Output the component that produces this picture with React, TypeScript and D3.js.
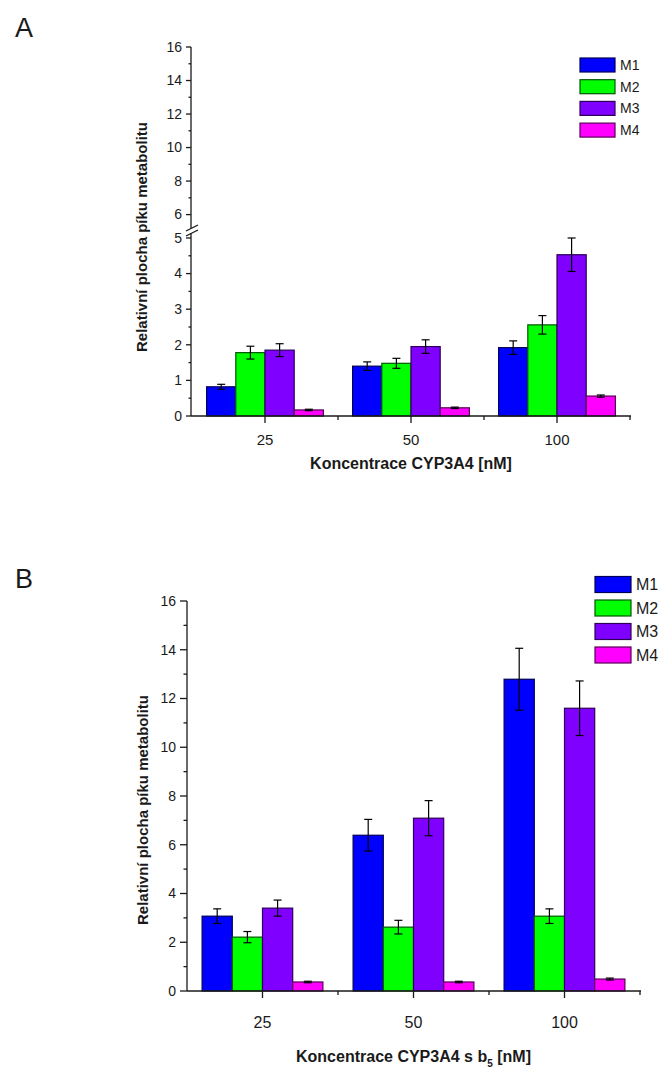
import React from "react";
import * as d3 from "d3";

// concentrations [nM]
const categories = ["25", "50", "100"];
const seriesNames = ["M1", "M2", "M3", "M4"];
const seriesColors = ["#0000FF", "#00FF00", "#8000FF", "#FF00FF"];

// panel A: CYP3A4 alone (rows = M1..M4, cols = 25/50/100)
const valuesA = [
  [0.82, 1.4, 1.92],
  [1.78, 1.48, 2.56],
  [1.85, 1.95, 4.53],
  [0.17, 0.23, 0.56],
];
const errorsA = [
  [0.07, 0.12, 0.19],
  [0.18, 0.14, 0.26],
  [0.18, 0.19, 0.47],
  [0.02, 0.02, 0.03],
];

// panel B: CYP3A4 with cytochrome b5
const valuesB = [
  [3.07, 6.39, 12.79],
  [2.21, 2.62, 3.07],
  [3.4, 7.09, 11.6],
  [0.37, 0.37, 0.49],
];
const errorsB = [
  [0.3, 0.65, 1.27],
  [0.23, 0.28, 0.3],
  [0.33, 0.72, 1.12],
  [0.03, 0.03, 0.04],
];

// tick labels
const ticksALower = [0, 1, 2, 3, 4, 5];
const ticksAUpper = [6, 8, 10, 12, 14, 16];
const ticksB = [0, 2, 4, 6, 8, 10, 12, 14, 16];

const yTitle = "Relativní plocha píku metabolitu";
const FONT = "Arial, 'Liberation Sans', Helvetica, sans-serif";
const INK = "#1a1a1a";

interface Segment {
  scale: d3.ScaleLinear<number, number>;
  major: number[];
  minor: number[];
}

interface PanelProps {
  label: string;
  labelY: number;
  values: number[][];
  errors: number[][];
  xRange: [number, number];
  segments: Segment[];
  axisX: number;
  majorLen: number;
  tickFontY: number;
  tickFontX: number;
  xLabelY: number;
  titleY: number;
  yTitleX: number;
  yTitleY: number;
  title: React.ReactNode;
  legend: { x: number; y: number; w: number; h: number; step: number; font: number };
  breakAt?: [number, number];
}

const Panel = (p: PanelProps) => {
  const y0 = p.segments[0].scale(0);
  const yOf = (v: number) => {
    for (const s of p.segments) {
      const d = s.scale.domain();
      if (v >= d[0] && v <= d[1]) return s.scale(v);
    }
    return p.segments[p.segments.length - 1].scale(v);
  };

  const x0 = d3.scaleBand<string>().domain(categories).range(p.xRange).padding(0);
  const bw = x0.bandwidth();
  const x1 = d3
    .scaleBand<string>()
    .domain(seriesNames)
    .range([bw * 0.1, bw * 0.9])
    .padding(0);

  const edges = [...categories.map((c) => x0(c)!), p.xRange[1]];

  return (
    <g fontFamily={FONT} fill={INK}>
      <text x={15} y={p.labelY} fontSize={27}>
        {p.label}
      </text>

      {/* bars */}
      {seriesNames.map((s, si) =>
        categories.map((c, ci) => {
          const v = p.values[si][ci];
          const x = x0(c)! + x1(s)!;
          const top = yOf(v);
          return (
            <rect
              key={s + c}
              x={x}
              y={top}
              width={x1.bandwidth()}
              height={y0 - top}
              fill={seriesColors[si]}
              stroke={d3.color(seriesColors[si])!.darker(3).formatHex()}
              strokeWidth={1.2}
            />
          );
        })
      )}

      {/* error bars */}
      {seriesNames.map((s, si) =>
        categories.map((c, ci) => {
          const v = p.values[si][ci];
          const e = p.errors[si][ci];
          const cx = x0(c)! + x1(s)! + x1.bandwidth() / 2;
          const yt = yOf(v + e);
          const yb = yOf(v - e);
          return (
            <g key={"e" + s + c} stroke="#000" strokeWidth={1.2}>
              <line x1={cx} x2={cx} y1={yt} y2={yb} />
              <line x1={cx - 4} x2={cx + 4} y1={yt} y2={yt} />
              <line x1={cx - 4} x2={cx + 4} y1={yb} y2={yb} />
            </g>
          );
        })
      )}

      {/* y axis */}
      {p.segments.map((s, i) => {
        const r = s.scale.range();
        return (
          <g key={"ys" + i} stroke={INK} strokeWidth={1.3}>
            <line x1={p.axisX} x2={p.axisX} y1={r[0]} y2={r[1]} />
            {s.major.map((t) => (
              <line key={t} x1={p.axisX - p.majorLen} x2={p.axisX} y1={s.scale(t)} y2={s.scale(t)} />
            ))}
            {s.minor.map((t) => (
              <line key={t} x1={p.axisX - p.majorLen / 2} x2={p.axisX} y1={s.scale(t)} y2={s.scale(t)} />
            ))}
          </g>
        );
      })}
      {p.segments.map((s, i) =>
        s.major.map((t) => (
          <text
            key={"yl" + i + t}
            x={p.axisX - p.majorLen - 4}
            y={s.scale(t)}
            dy="0.35em"
            textAnchor="end"
            fontSize={p.tickFontY}
            stroke="none"
          >
            {t}
          </text>
        ))
      )}
      {p.breakAt && (
        <g stroke={INK} strokeWidth={1.3}>
          {p.breakAt.map((by, i) => (
            <line key={i} x1={p.axisX - 5} x2={p.axisX + 7} y1={by + 3} y2={by - 3} />
          ))}
        </g>
      )}

      {/* x axis */}
      <g stroke={INK} strokeWidth={1.3}>
        <line x1={p.axisX} x2={p.xRange[1] + 1} y1={y0} y2={y0} />
        {categories.map((c) => {
          const cx = x0(c)! + bw / 2;
          return <line key={c} x1={cx} x2={cx} y1={y0} y2={y0 + 7} />;
        })}
        {edges.slice(1).map((ex, i) => (
          <line key={i} x1={ex} x2={ex} y1={y0} y2={y0 + 4} />
        ))}
      </g>
      {categories.map((c) => (
        <text
          key={"xl" + c}
          x={x0(c)! + bw / 2}
          y={p.xLabelY}
          textAnchor="middle"
          fontSize={p.tickFontX}
        >
          {c}
        </text>
      ))}
      <text
        x={(p.xRange[0] + p.xRange[1]) / 2}
        y={p.titleY}
        textAnchor="middle"
        fontSize={16}
        fontWeight="bold"
      >
        {p.title}
      </text>
      <text
        transform={`translate(${p.yTitleX},${p.yTitleY}) rotate(-90)`}
        textAnchor="middle"
        dy="0.35em"
        fontSize={15}
        fontWeight="bold"
      >
        {yTitle}
      </text>

      {/* legend */}
      {seriesNames.map((s, si) => {
        const ly = p.legend.y + si * p.legend.step;
        return (
          <g key={"lg" + s}>
            <rect
              x={p.legend.x}
              y={ly}
              width={p.legend.w}
              height={p.legend.h}
              fill={seriesColors[si]}
              stroke={d3.color(seriesColors[si])!.darker(3).formatHex()}
              strokeWidth={1.2}
            />
            <text
              x={p.legend.x + p.legend.w + 5}
              y={ly + p.legend.h / 2}
              dy="0.36em"
              fontSize={p.legend.font}
            >
              {s}
            </text>
          </g>
        );
      })}
    </g>
  );
};

const App = () => {
  const segA: Segment[] = [
    {
      scale: d3.scaleLinear().domain([0, 5.14]).range([416, 233]),
      major: ticksALower,
      minor: d3.range(0.5, 5, 1),
    },
    {
      scale: d3.scaleLinear().domain([5.2, 16]).range([228, 47]),
      major: ticksAUpper,
      minor: d3.range(7, 16, 2),
    },
  ];
  const segB: Segment[] = [
    {
      scale: d3.scaleLinear().domain([0, 16]).range([991, 601]),
      major: ticksB,
      minor: d3.range(1, 16, 2),
    },
  ];

  return (
    <div style={{ position: "absolute", left: 0, top: 0 }}>
      <svg width={658} height={1071} style={{ display: "block", background: "#fff" }}>
        <Panel
          label="A"
          labelY={37}
          values={valuesA}
          errors={errorsA}
          xRange={[192, 630]}
          segments={segA}
          axisX={191}
          majorLen={5}
          tickFontY={14}
          tickFontX={15}
          xLabelY={445}
          titleY={469}
          yTitleX={142}
          yTitleY={237}
          title="Koncentrace CYP3A4 [nM]"
          legend={{ x: 580, y: 58, w: 35, h: 14, step: 21.7, font: 14 }}
          breakAt={[228, 233]}
        />
        <Panel
          label="B"
          labelY={588}
          values={valuesB}
          errors={errorsB}
          xRange={[187, 640]}
          segments={segB}
          axisX={187}
          majorLen={7}
          tickFontY={14}
          tickFontX={16}
          xLabelY={1028}
          titleY={1062}
          yTitleX={143}
          yTitleY={810}
          title={
            <>
              Koncentrace CYP3A4 s b
              <tspan fontSize={10} dy={5}>
                5
              </tspan>
              <tspan dy={-5}> [nM]</tspan>
            </>
          }
          legend={{ x: 595, y: 576.5, w: 36, h: 16, step: 23.5, font: 16 }}
        />
      </svg>
    </div>
  );
};

export default App;
